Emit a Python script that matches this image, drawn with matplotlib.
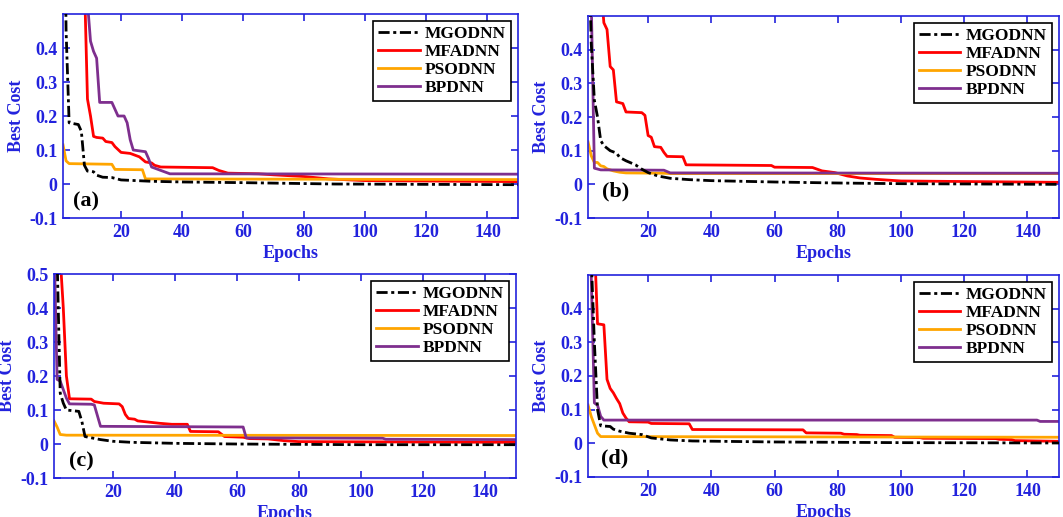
import matplotlib
matplotlib.use('Agg')
import matplotlib.pyplot as plt

METHODS = ['MGODNN', 'MFADNN', 'PSODNN', 'BPDNN']
PANEL_TAGS = ['(a)', '(b)', '(c)', '(d)']

# ---- panel (a) ----
a_mgo_ep = [1, 2, 3, 6, 7, 8, 9, 11, 12, 14, 17, 20, 25, 30, 40, 60, 90, 150]
a_mgo_cost = [1.2, 0.45, 0.18, 0.175, 0.155, 0.055, 0.038, 0.036, 0.026, 0.02, 0.019,
              0.012, 0.01, 0.008, 0.006, 0.004, 0.0, -0.002]
a_mfa_ep = [8, 9, 10, 11, 12, 14, 15, 17, 18, 20, 23, 26, 28, 30, 31, 33, 50, 52, 55,
            65, 70, 80, 88, 100, 150]
a_mfa_cost = [0.6, 0.25, 0.2, 0.14, 0.137, 0.135, 0.125, 0.122, 0.11, 0.093, 0.09, 0.08,
              0.065, 0.062, 0.055, 0.05, 0.048, 0.04, 0.032, 0.03, 0.027, 0.022, 0.015,
              0.01, 0.007]
a_pso_ep = [1, 2, 3, 17, 18, 27, 28, 150]
a_pso_cost = [0.115, 0.068, 0.06, 0.058, 0.043, 0.042, 0.015, 0.013]
a_bp_ep = [8, 10, 11, 12, 13, 17, 19, 21, 22, 23, 24, 28, 29, 30, 33, 36, 150]
a_bp_cost = [0.65, 0.42, 0.39, 0.37, 0.24, 0.24, 0.2, 0.2, 0.18, 0.13, 0.1, 0.095, 0.075,
             0.05, 0.04, 0.03, 0.029]

# ---- panel (b) ----
b_mgo_ep = [1, 2, 3, 4, 5, 6, 8, 10, 11, 13, 16, 18, 20, 23, 27, 33, 40, 60, 80, 100, 150]
b_mgo_cost = [0.8, 0.42, 0.25, 0.2, 0.13, 0.115, 0.1, 0.093, 0.08, 0.07, 0.058, 0.045,
              0.035, 0.025, 0.018, 0.014, 0.011, 0.007, 0.004, 0.002, 0.0]
b_mfa_ep = [5, 6, 7, 8, 9, 10, 12, 13, 18, 19, 20, 21, 22, 24, 25, 26, 31, 32, 59, 60,
            72, 75, 79, 83, 87, 92, 100, 150]
b_mfa_cost = [0.6, 0.48, 0.46, 0.35, 0.34, 0.245, 0.24, 0.215, 0.213, 0.205, 0.145, 0.14,
              0.112, 0.11, 0.095, 0.083, 0.082, 0.058, 0.056, 0.051, 0.05, 0.04, 0.035,
              0.025, 0.019, 0.015, 0.01, 0.006]
b_pso_ep = [1, 2, 3, 4, 5, 6, 7, 9, 11, 13, 25, 27, 150]
b_pso_cost = [0.126, 0.085, 0.065, 0.065, 0.055, 0.053, 0.046, 0.04, 0.036, 0.034, 0.033,
              0.032, 0.032]
b_bp_ep = [1, 2, 3, 5, 25, 27, 150]
b_bp_cost = [0.9, 0.55, 0.048, 0.043, 0.042, 0.034, 0.033]

# ---- panel (c) ----
c_mgo_ep = [1, 2, 3, 4, 5, 9, 10, 11, 12, 16, 20, 26, 40, 60, 100, 150]
c_mgo_cost = [0.7, 0.55, 0.15, 0.12, 0.1, 0.096, 0.066, 0.022, 0.02, 0.013, 0.008, 0.005,
              0.002, 0.0, -0.002, -0.002]
c_mfa_ep = [2, 3, 4, 5, 6, 13, 14, 17, 22, 23, 24, 25, 27, 28, 30, 35, 39, 44, 45, 54,
            56, 62, 64, 70, 75, 80, 150]
c_mfa_cost = [0.7, 0.55, 0.4, 0.2, 0.133, 0.132, 0.125, 0.12, 0.118, 0.11, 0.087, 0.075,
              0.073, 0.068, 0.066, 0.061, 0.058, 0.058, 0.037, 0.036, 0.022, 0.02, 0.016,
              0.015, 0.01, 0.007, 0.005]
c_pso_ep = [1, 2, 3, 5, 150]
c_pso_cost = [0.068, 0.05, 0.028, 0.026, 0.025]
c_bp_ep = [1, 2, 3, 4, 5, 6, 13, 14, 16, 62, 63, 107, 108, 150]
c_bp_cost = [0.6, 0.19, 0.185, 0.16, 0.135, 0.118, 0.117, 0.115, 0.052, 0.05, 0.018,
             0.017, 0.014, 0.013]

# ---- panel (d) ----
d_mgo_ep = [1, 2, 3, 4, 5, 8, 9, 11, 14, 18, 21, 27, 34, 60, 100, 150]
d_mgo_cost = [0.8, 0.55, 0.3, 0.1, 0.052, 0.05, 0.042, 0.036, 0.03, 0.026, 0.016, 0.01,
              0.007, 0.004, 0.002, 0.001]
d_mfa_ep = [3, 4, 6, 7, 8, 9, 10, 11, 12, 13, 14, 20, 21, 33, 34, 69, 70, 81, 82, 86, 87,
            97, 98, 106, 107, 130, 131, 135, 136, 150]
d_mfa_cost = [0.6, 0.355, 0.352, 0.19, 0.163, 0.15, 0.133, 0.118, 0.09, 0.075, 0.064,
              0.063, 0.059, 0.058, 0.041, 0.04, 0.031, 0.03, 0.027, 0.026, 0.024, 0.023,
              0.018, 0.017, 0.015, 0.014, 0.012, 0.011, 0.008, 0.006]
d_pso_ep = [1, 2, 3, 4, 5, 150]
d_pso_cost = [0.114, 0.08, 0.055, 0.03, 0.02, 0.018]
d_bp_ep = [1, 2, 3, 4, 5, 6, 143, 144, 150]
d_bp_cost = [0.8, 0.5, 0.12, 0.113, 0.08, 0.069, 0.069, 0.065, 0.065]

X_TICKS = [20, 40, 60, 80, 100, 120, 140]
Y_TICKS = [-0.1, 0, 0.1, 0.2, 0.3, 0.4]
Y_TICKS_C = [-0.1, 0, 0.1, 0.2, 0.3, 0.4, 0.5]
Y_LABELS = ['-0.1', '0', '0.1', '0.2', '0.3', '0.4', '0.5']

BLUE = '#2222dd'
COLORS = ['black', '#ff0000', '#ffa500', '#7e2f8e']
SERIF = 'Liberation Serif'

plt.rcParams['font.family'] = SERIF
plt.rcParams['font.weight'] = 'bold'

panels = [
    ([a_mgo_ep, a_mfa_ep, a_pso_ep, a_bp_ep], [a_mgo_cost, a_mfa_cost, a_pso_cost, a_bp_cost]),
    ([b_mgo_ep, b_mfa_ep, b_pso_ep, b_bp_ep], [b_mgo_cost, b_mfa_cost, b_pso_cost, b_bp_cost]),
    ([c_mgo_ep, c_mfa_ep, c_pso_ep, c_bp_ep], [c_mgo_cost, c_mfa_cost, c_pso_cost, c_bp_cost]),
    ([d_mgo_ep, d_mfa_ep, d_pso_ep, d_bp_ep], [d_mgo_cost, d_mfa_cost, d_pso_cost, d_bp_cost]),
]

# axes rectangles in figure fraction (left, bottom, width, height)
rects = [
    (0.0593, 0.5783, 0.428, 0.3946),
    (0.5532, 0.5783, 0.4431, 0.3907),
    (0.0508, 0.0754, 0.4346, 0.3946),
    (0.5532, 0.0774, 0.4431, 0.3907),
]
tag_pos = [(0.021, 0.083), (0.029, 0.13), (0.032, 0.08), (0.028, 0.093)]

fig = plt.figure(figsize=(10.63, 5.17), dpi=100)

for i, (eps, costs) in enumerate(panels):
    ax = fig.add_axes(rects[i])
    handles = [None] * 4
    for k in [3, 2, 1, 0]:
        if k == 0:
            ln, = ax.plot(eps[k], costs[k], color=COLORS[k], lw=2.0,
                          dashes=(4, 1.3, 1.1, 1.3), label=METHODS[k], zorder=5)
        else:
            ln, = ax.plot(eps[k], costs[k], color=COLORS[k], lw=2.0,
                          label=METHODS[k], zorder=2 + k * 0.1)
        handles[k] = ln

    yt = Y_TICKS_C if i == 2 else Y_TICKS
    ax.set_xlim(1, 150)
    ax.set_ylim(-0.1, 0.5)
    ax.set_xticks(X_TICKS)
    ax.set_yticks(yt)
    ax.set_yticklabels(Y_LABELS[:len(yt)])
    ax.tick_params(direction='in', top=True, right=True, length=5, width=1.2,
                   colors=BLUE, labelsize=13, pad=4)
    for lab in ax.get_xticklabels() + ax.get_yticklabels():
        lab.set_fontweight('bold')
    for sp in ax.spines.values():
        sp.set_color(BLUE)
        sp.set_linewidth(1.2)

    ax.set_xlabel('Epochs', color=BLUE, fontsize=13, fontweight='bold', labelpad=3)
    ax.set_ylabel('Best Cost', color=BLUE, fontsize=13, fontweight='bold', labelpad=3)

    ax.text(tag_pos[i][0], tag_pos[i][1], PANEL_TAGS[i], transform=ax.transAxes,
            ha='left', va='center', fontsize=16, fontweight='bold', color='black')

    leg = ax.legend(handles=handles, loc='upper right', bbox_to_anchor=(0.985, 0.966),
                    borderaxespad=0, fancybox=False, framealpha=1, edgecolor='black',
                    prop={'family': SERIF, 'weight': 'bold', 'size': 12.5},
                    handlelength=2.4, handletextpad=0.3, labelspacing=0.1,
                    borderpad=0.3)
    leg.get_frame().set_linewidth(1.2)
    leg.set_zorder(10)

fig.savefig('out.png', dpi=100)
